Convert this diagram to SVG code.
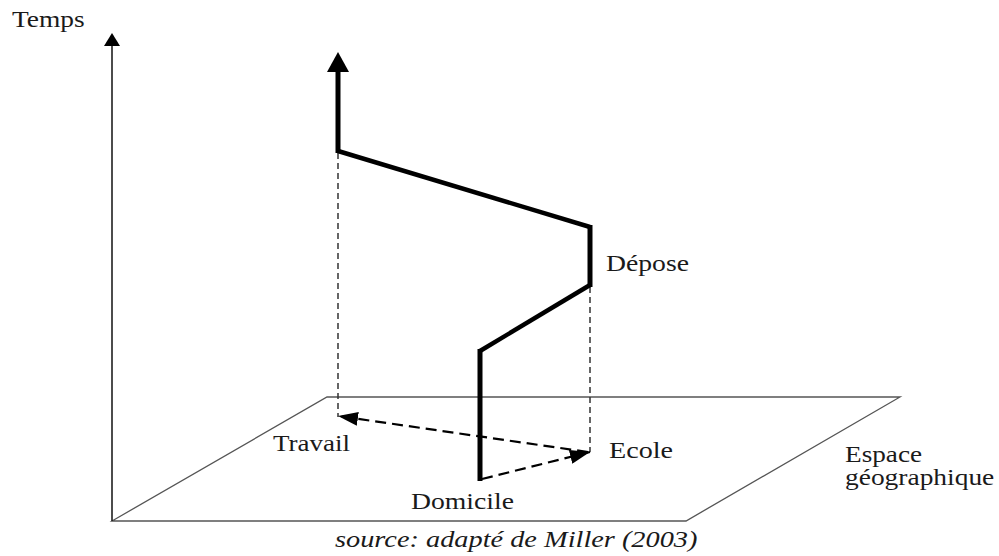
<svg xmlns="http://www.w3.org/2000/svg" width="999" height="556" viewBox="0 0 999 556">
<style>
text{font-family:'Liberation Serif','Times New Roman',Times,serif;font-size:22.5px;fill:#1a1a1a}
.it{font-style:italic}
.plane{fill:none;stroke:#555;stroke-width:1.3}
.axis{stroke:#111;stroke-width:1.5;fill:none}
.path{stroke:#000;fill:none;stroke-linejoin:miter;stroke-linecap:butt}
.proj{stroke:#333;stroke-width:1.5;stroke-dasharray:6 4;fill:none}
.move{stroke:#000;stroke-width:2.2;stroke-dasharray:11 6;fill:none}
</style>
<defs>
<marker id="ah" viewBox="0 0 20 14" refX="20" refY="7" markerWidth="20" markerHeight="14" markerUnits="userSpaceOnUse" orient="auto">
<polygon points="0,0 20,7 0,14" fill="#000" stroke="none"/>
</marker>
</defs>
<g id="plane">
<polygon class="plane" points="112,521 686,521 900,397 327,397"/>
</g>
<g id="time-axis">
<line class="axis" x1="112" y1="521" x2="112" y2="45"/>
<polygon points="104,46 120,46 112,33" fill="#000"/>
</g>
<g id="connectors">
<line class="proj" x1="338" y1="153" x2="338" y2="417"/>
<line class="proj" x1="590" y1="287" x2="590" y2="452"/>
<line class="move" x1="588" y1="452" x2="338" y2="416" marker-end="url(#ah)"/>
<line class="move" x1="482" y1="479" x2="590" y2="452" marker-end="url(#ah)"/>
<polyline class="path" stroke-width="5" points="480,481 480,349"/>
<polyline class="path" stroke-width="4.5" points="480,351 590,285"/>
<polyline class="path" stroke-width="5" points="590,287 590,225"/>
<polyline class="path" stroke-width="4.5" points="590,227 338,151"/>
<polyline class="path" stroke-width="5" points="338,153 338,70"/>
<polygon points="327,72 349,72 338,52" fill="#000"/>
</g>
<g id="label-temps"><text transform="translate(12 27) scale(1.22 1)">Temps</text></g>
<g id="node-depose"><text transform="translate(606 271) scale(1.23 1)">Dépose</text></g>
<g id="node-travail"><text transform="translate(273 451) scale(1.2 1)">Travail</text></g>
<g id="node-ecole"><text transform="translate(609 458) scale(1.25 1)">Ecole</text></g>
<g id="node-domicile"><text transform="translate(411 509) scale(1.23 1)">Domicile</text></g>
<g id="label-espace">
<text transform="translate(845 462) scale(1.21 1)">Espace</text>
<text transform="translate(845 485) scale(1.22 1)">géographique</text>
</g>
<g id="source"><text class="it" transform="translate(335 547) scale(1.26 1)">source: adapté de Miller (2003)</text></g>
</svg>
